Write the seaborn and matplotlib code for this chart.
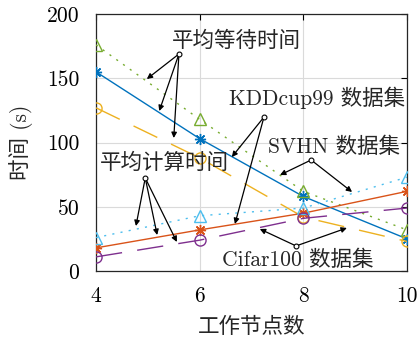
import matplotlib
matplotlib.use("Agg")
import matplotlib.pyplot as plt
import seaborn as sns
import pandas as pd

# Worker counts on the x axis
nodes = [4, 6, 8, 10]

# Average waiting time (s)
kdd_wait = [155, 103, 58, 25]
svhn_wait = [176, 118, 62, 32]
cifar_wait = [127, 88, 42, 23]

# Average computing time (s)
kdd_comp = [18, 32, 45, 62]
svhn_comp = [26, 43, 49, 73]
cifar_comp = [11, 24, 41, 49]

x_ticks = [4, 6, 8, 10]
y_ticks = [0, 50, 100, 150, 200]

series = [
    ("KDDcup99 wait", kdd_wait, "#0072BD", (8, 2, 0), "-"),
    ("SVHN wait", svhn_wait, "#77AC30", "^", (0, (1.5, 4.5))),
    ("Cifar100 wait", cifar_wait, "#EDB120", "o", (0, (19, 11))),
    ("KDDcup99 comp", kdd_comp, "#D95319", (8, 2, 0), "-"),
    ("SVHN comp", svhn_comp, "#4DBEEE", "^", (0, (1.5, 4.5))),
    ("Cifar100 comp", cifar_comp, "#7E2F8E", "o", (0, (19, 11))),
]

rows = []
for name, vals, *_ in series:
    for n, v in zip(nodes, vals):
        rows.append({"nodes": n, "time": v, "series": name})
df = pd.DataFrame(rows)

sns.set_style("white")
plt.rcParams["font.family"] = ["cmr10", "Noto Sans CJK SC"]
plt.rcParams["axes.unicode_minus"] = False
plt.rcParams["mathtext.fontset"] = "cm"
FS = 15.5

fig = plt.figure(figsize=(4.18, 3.42), dpi=100)
ax = fig.add_axes([0.2297, 0.2076, 0.744, 0.7514])

for name, vals, color, marker, ls in series:
    sub = df[df["series"] == name]
    sns.lineplot(data=sub, x="nodes", y="time", ax=ax, color=color,
                 linestyle=ls, linewidth=1.0, marker=marker, markersize=8,
                 markerfacecolor="none", markeredgecolor=color,
                 markeredgewidth=1.0, legend=False, zorder=3)

ax.set_xlim(4, 10)
ax.set_ylim(0, 200)
ax.set_xticks(x_ticks)
ax.set_yticks(y_ticks)
ax.set_xticklabels([str(t) for t in x_ticks], fontsize=FS)
ax.set_yticklabels([str(t) for t in y_ticks], fontsize=FS)
ax.grid(True, color="#dadada", linewidth=0.8, zorder=0)
ax.set_axisbelow(True)
ax.tick_params(direction="in", length=4, width=0.8, top=True, right=True,
               colors="black")
ax.tick_params(axis="y", pad=12)
ax.tick_params(axis="x", pad=11)
for sp in ax.spines.values():
    sp.set_color("#262626")
    sp.set_linewidth(0.9)

ax.set_xlabel("工作节点数", fontsize=FS, labelpad=8)
ax.set_ylabel("时间 (s)", fontsize=FS, labelpad=10)

arrow_kw = dict(arrowstyle="-|>", color="black", lw=0.9, mutation_scale=8,
                shrinkA=0, shrinkB=0)

# Callouts: text, anchor point, and arrow targets (data coordinates)
callouts = [
    ("平均等待时间", (5.47, 179), (5.60, 168.9),
     [(4.98, 149.4), (5.22, 124.5), (5.50, 103.5)]),
    ("平均计算时间", (4.07, 84), (4.95, 72.4),
     [(4.77, 35), (5.18, 28), (5.56, 22.6)]),
    ("KDDcup99 数据集", (6.57, 135), (7.24, 119.8),
     [(6.62, 88.7), (6.68, 36.6)]),
    ("SVHN 数据集", (7.32, 97), (8.15, 86.4),
     [(7.55, 74.7), (8.94, 61.5)]),
    ("Cifar100 数据集", (6.43, 8.6), (7.86, 19.5),
     [(7.16, 32.7), (8.84, 33.5)]),
]

for text, tpos, anchor, targets in callouts:
    ax.text(tpos[0], tpos[1], text, fontsize=FS, ha="left", va="center",
            zorder=5)
    for tgt in targets:
        ax.annotate("", xy=tgt, xytext=anchor, arrowprops=arrow_kw, zorder=6)
    ax.plot([anchor[0]], [anchor[1]], marker="o", markersize=3.5,
            markerfacecolor="white", markeredgecolor="black",
            markeredgewidth=0.8, zorder=7)

fig.savefig("out.png", dpi=100)
